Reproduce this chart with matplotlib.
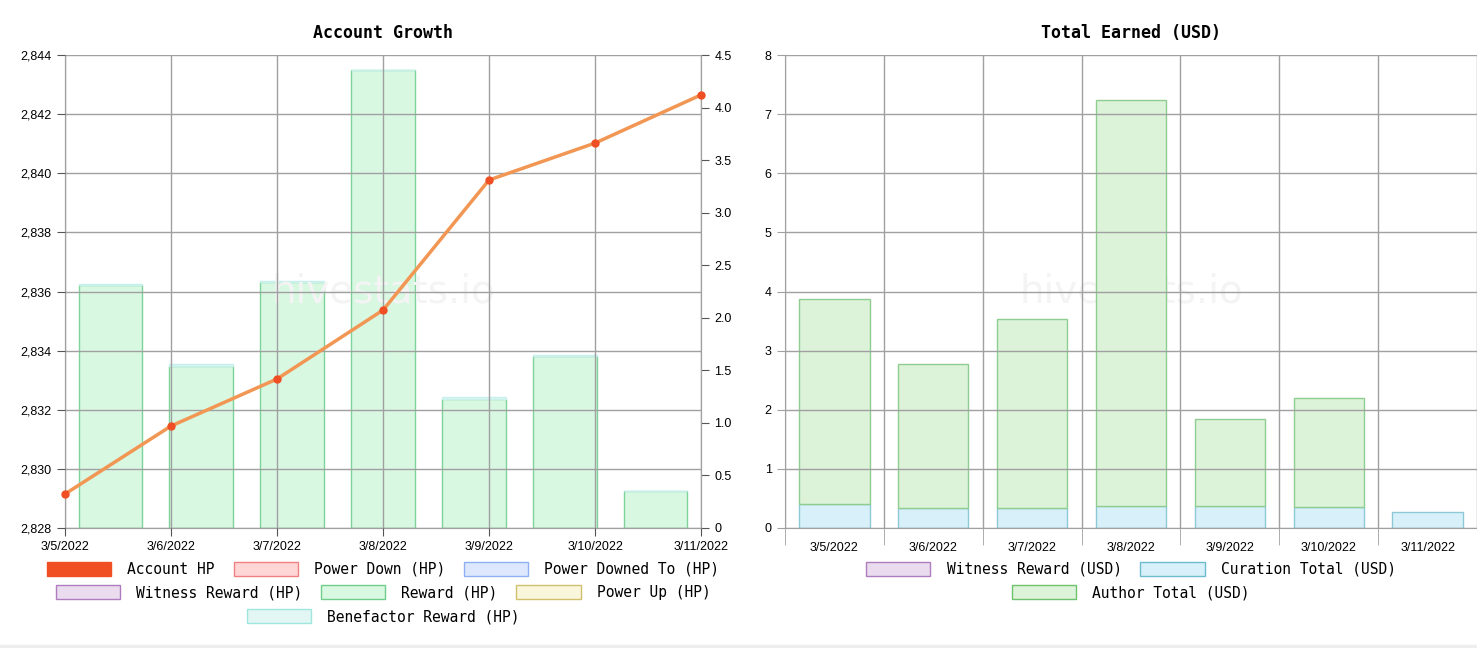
import numpy as np
import matplotlib.pyplot as plt
from matplotlib.patches import Patch, Rectangle
from matplotlib.legend import Legend
from matplotlib.ticker import FuncFormatter

# data
dates = ['3/5/2022', '3/6/2022', '3/7/2022', '3/8/2022', '3/9/2022', '3/10/2022', '3/11/2022']
account_hp = [2829.15, 2831.45, 2833.04, 2835.37, 2839.77, 2841.02, 2842.65]
reward_hp = [2.31, 1.54, 2.34, 4.36, 1.23, 1.64, 0.35]
benefactor_hp = [0.01, 0.02, 0.01, 0.0, 0.02, 0.01, 0.0]
curation_usd = [0.41, 0.34, 0.34, 0.38, 0.37, 0.35, 0.27]
author_usd = [3.46, 2.43, 3.20, 6.86, 1.47, 1.85, 0.0]
witness_usd = [0, 0, 0, 0, 0, 0, 0]

left_legend = [
    ('Account HP', '#f04e23', '#f04e23'),
    ('Power Down (HP)', '#ffd6d6', '#f08080'),
    ('Power Downed To (HP)', '#dde8ff', '#8fb0f0'),
    ('Witness Reward (HP)', '#eadcee', '#b07cc0'),
    ('Reward (HP)', '#d8f8e2', '#6fcf8a'),
    ('Power Up (HP)', '#faf6dc', '#cfc070'),
    ('Benefactor Reward (HP)', '#e2f6f4', '#9fe6df'),
]
right_legend = [
    ('Witness Reward (USD)', '#eadcee', '#b07cc0'),
    ('Curation Total (USD)', '#d8f0fa', '#6bbccc'),
    ('Author Total (USD)', '#dcf3da', '#6cc36c'),
]

mono = 'DejaVu Sans Mono'
tickfont = ['Liberation Sans Narrow', 'Liberation Sans', 'DejaVu Sans']
grid_c = '#a0a0a0'

fig = plt.figure(figsize=(14.77, 6.48), dpi=100)
W, H = 1477, 648
def rect(x0, x1, y0, y1):
    return [x0 / W, 1 - y1 / H, (x1 - x0) / W, (y1 - y0) / H]

# ---------------- left: Account Growth ----------------
axl = fig.add_axes(rect(65, 701, 55, 528))
axb = axl.twinx()
axl.set_zorder(axb.get_zorder() + 1)
axl.patch.set_visible(False)

n = len(dates)
xline = np.arange(n)
xbar = (np.arange(n) + 0.5) * (n - 1) / n
bw = 0.7 * (n - 1) / n

axb.bar(xbar, reward_hp, bw, color='#d8f8e2', edgecolor='#7fd39a', lw=1)
axb.bar(xbar, benefactor_hp, bw, bottom=reward_hp, color='#e2f6f4', edgecolor='#c8f0ec', lw=1)
axb.set_ylim(0, 4.5)
axb.set_yticks(np.arange(0, 4.51, 0.5))
axb.yaxis.set_major_formatter(FuncFormatter(lambda v, p: '0' if v == 0 else f'{v:.1f}'))

axl.plot(xline, account_hp, color='#f29654', lw=2.5, zorder=3, clip_on=False)
axl.plot(xline, account_hp, 'o', color='#f04e23', ms=5, zorder=4, clip_on=False)
axl.set_ylim(2828, 2844)
axl.set_yticks(np.arange(2828, 2844.1, 2))
axl.yaxis.set_major_formatter(FuncFormatter(lambda v, p: f'{v:,.0f}'))
axl.set_xlim(0, n - 1)
axl.set_xticks(xline)
axl.set_xticklabels(dates)
axl.grid(True, color=grid_c, lw=1)
axl.set_axisbelow(False)

for a in (axl, axb):
    for s in a.spines.values():
        s.set_color(grid_c)
    a.tick_params(colors='#555555', labelcolor='black', length=6, labelsize=9)
    for lab in a.get_xticklabels() + a.get_yticklabels():
        lab.set_family(tickfont)
axl.spines['top'].set_visible(False)
axb.spines['top'].set_visible(False)

axl.set_title('Account Growth', family=mono, fontweight='bold', fontsize=12, pad=12)
axl.text(0.5, 0.5, 'hivestats.io', transform=axl.transAxes, ha='center', va='center',
         fontsize=28, color='#f4f4f4', zorder=0)

# ---------------- right: Total Earned (USD) ----------------
axr = fig.add_axes(rect(785, 1477, 55, 528))
xr = np.arange(n)
axr.bar(xr, witness_usd, 0.71, color='#eadcee', edgecolor='#b07cc0', lw=0)
axr.bar(xr, curation_usd, 0.71, color='#d8f0fa', edgecolor='#8cc8d6', lw=1)
axr.bar(xr, author_usd, 0.71, bottom=curation_usd, color='#dcf3da',
        edgecolor=['#8fcc8f' if v > 0 else 'none' for v in author_usd], lw=1)
axr.set_xlim(-0.5, n - 0.5)
axr.set_ylim(0, 8)
axr.set_yticks(np.arange(0, 9, 1))
axr.set_xticks(xr)
axr.set_xticklabels(dates)
axr.set_xticks(np.arange(-0.5, n, 1), minor=True)
axr.tick_params(axis='x', which='major', length=0, pad=10)
axr.tick_params(axis='x', which='minor', length=12, color=grid_c)
axr.tick_params(axis='y', length=6, color=grid_c)
axr.tick_params(labelsize=9)
axr.grid(True, axis='y', color=grid_c, lw=1)
axr.grid(True, axis='x', which='minor', color=grid_c, lw=1)
axr.set_axisbelow(False)
for lab in axr.get_xticklabels() + axr.get_yticklabels():
    lab.set_family(tickfont)
for k, s in axr.spines.items():
    s.set_color(grid_c)
axr.spines['top'].set_visible(False)
axr.spines['right'].set_visible(False)
axr.set_title('Total Earned (USD)', family=mono, fontweight='bold', fontsize=12, pad=12)
axr.text(0.5, 0.5, 'hivestats.io', transform=axr.transAxes, ha='center', va='center',
         fontsize=28, color='#f4f4f4', zorder=0)

# ---------------- legends, one per row so each row is centred ----------------
def legend_rows(ax, items, rows, ys):
    start = 0
    for cnt, y in zip(rows, ys):
        chunk = items[start:start + cnt]
        hs = [Patch(facecolor=f, edgecolor=e, lw=1) for l, f, e in chunk]
        lg = Legend(ax, hs, [l for l, f, e in chunk], loc='center', bbox_to_anchor=(0.5, y),
                    ncol=cnt, frameon=False, prop={'family': mono, 'size': 10.5},
                    handlelength=4.4, handleheight=1.1, handletextpad=1.1,
                    columnspacing=1.3, borderaxespad=0)
        ax.add_artist(lg)
        start += cnt

legend_rows(axl, left_legend, [3, 3, 1], [-0.087, -0.137, -0.188])
legend_rows(axr, right_legend, [2, 1], [-0.087, -0.137])

fig.add_artist(Rectangle((0, 0), 1, 3 / H, transform=fig.transFigure, color='#eeeeee'))

fig.savefig('out.png', dpi=100)
